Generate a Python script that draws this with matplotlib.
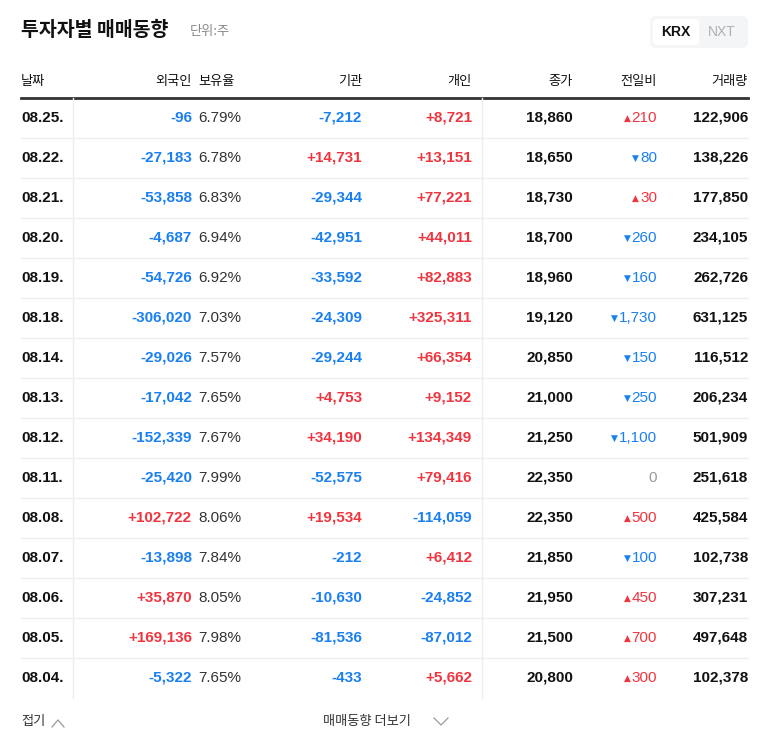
import matplotlib
matplotlib.use("Agg")
import matplotlib.pyplot as plt
from matplotlib.patches import FancyBboxPatch

dates = ["08.25.","08.22.","08.21.","08.20.","08.19.","08.18.","08.14.","08.13.","08.12.","08.11.","08.08.","08.07.","08.06.","08.05.","08.04."]
foreign = [-96,-27183,-53858,-4687,-54726,-306020,-29026,-17042,-152339,-25420,102722,-13898,35870,169136,-5322]
holding = [6.79,6.78,6.83,6.94,6.92,7.03,7.57,7.65,7.67,7.99,8.06,7.84,8.05,7.98,7.65]
inst = [-7212,14731,-29344,-42951,-33592,-24309,-29244,4753,34190,-52575,19534,-212,-10630,-81536,-433]
indiv = [8721,13151,77221,44011,82883,325311,66354,9152,134349,79416,-114059,6412,-24852,-87012,5662]
close = [18860,18650,18730,18700,18960,19120,20850,21000,21250,22350,22350,21850,21950,21500,20800]
change = [210,-80,30,-260,-160,-1730,-150,-250,-1100,0,500,-100,450,700,300]
volume = [122906,138226,177850,234105,262726,631125,116512,206234,501909,251618,425584,102738,307231,497648,102378]
headers = ["날짜","외국인","보유율","기관","개인","종가","전일비","거래량"]

CJK = ["Noto Sans CJK KR", "Noto Sans CJK JP", "Noto Sans CJK SC", "DejaVu Sans"]
NUM = ["Liberation Sans", "Noto Sans CJK JP", "DejaVu Sans"]
RED, BLUE, DARK, GRAY = "#f0353f", "#1a7ff0", "#111111", "#999999"

fig = plt.figure(figsize=(7.68, 7.49), dpi=100)
ax = fig.add_axes([0, 0, 1, 1])
ax.set_xlim(0, 768); ax.set_ylim(749, 0); ax.axis("off")

def T(x, y, s, ha="right", size=11, w="bold", c=DARK, fam=NUM):
    return ax.text(x, y, s, ha=ha, va="center", fontsize=size, fontweight=w, color=c, family=fam)

def col(v):
    return RED if v > 0 else (BLUE if v < 0 else GRAY)

def sgn(v):
    return f"+{v:,}" if v > 0 else f"{v:,}"

T(21, 30, "투자자별 매매동향", ha="left", size=14, fam=CJK)
T(190, 31, "단위:주", ha="left", size=9.5, w="normal", c="#888888", fam=CJK)
ax.add_patch(FancyBboxPatch((650, 16), 98, 32, boxstyle="round,pad=0,rounding_size=6", fc="#f4f5f7", ec="none"))
ax.add_patch(FancyBboxPatch((653, 19), 46, 26, boxstyle="round,pad=0,rounding_size=4", fc="white", ec="none"))
T(676, 32, "KRX", ha="center", size=10)
T(722, 32, "NXT", ha="center", size=10, w="normal", c="#b0b0b0")

hx = [(21,"left"),(192,"right"),(198,"left"),(362,"right"),(472,"right"),(573,"right"),(657,"right"),(748,"right")]
for (x, ha), h in zip(hx, headers):
    T(x, 81, h, ha=ha, size=9.5, w="normal", fam=CJK)
ax.plot([21, 748], [98, 98], color="#333333", lw=2)
y_last = 98 + 40 * len(dates)
ax.plot([73, 73], [98, y_last], color="#eeeeee", lw=1)
ax.plot([482, 482], [98, y_last], color="#eeeeee", lw=1)

fig.canvas.draw()
r = fig.canvas.get_renderer()
for i in range(len(dates)):
    y = 118 + 40 * i
    if i > 0:
        ax.plot([21, 748], [y - 20, y - 20], color="#eeeeee", lw=1)
    T(21, y, dates[i], ha="left")
    T(192, y, sgn(foreign[i]), c=col(foreign[i]))
    T(198, y, f"{holding[i]:.2f}%", ha="left", w="normal", c="#333333")
    T(362, y, sgn(inst[i]), c=col(inst[i]))
    T(472, y, sgn(indiv[i]), c=col(indiv[i]))
    T(573, y, f"{close[i]:,}")
    ch = change[i]
    t = T(657, y, f"{abs(ch):,}", w="normal", c=col(ch))
    if ch != 0:
        bb = t.get_window_extent(r)
        T(bb.x0 - 1, y, "▲" if ch > 0 else "▼", size=6.5, w="normal", c=col(ch), fam=["DejaVu Sans"])
    T(748, y, f"{volume[i]:,}")

T(21, 721, "접기", ha="left", size=9.5, w="normal", c="#333333", fam=CJK)
ax.plot([52, 58, 64], [727, 720, 727], color="#999999", lw=0.9)
T(323, 721, "매매동향 더보기", ha="left", size=9.5, w="normal", c="#333333", fam=CJK)
ax.plot([434, 441, 448], [718, 725, 718], color="#999999", lw=0.9)

fig.savefig("out.png", dpi=100, facecolor="white")
